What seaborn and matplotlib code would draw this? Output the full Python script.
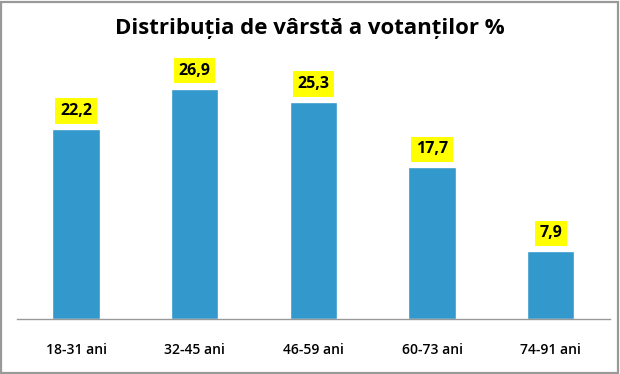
import matplotlib
matplotlib.use('Agg')
import matplotlib.pyplot as plt
import seaborn as sns
import pandas as pd
from matplotlib.patches import Rectangle

categories = ['18-31 ani', '32-45 ani', '46-59 ani', '60-73 ani', '74-91 ani']
values = [22.2, 26.9, 25.3, 17.7, 7.9]
labels = ['22,2', '26,9', '25,3', '17,7', '7,9']

df = pd.DataFrame({'grupa': categories, 'procent': values})

sns.set_theme(style='white')
plt.rcParams['font.family'] = ['Open Sans', 'DejaVu Sans']
plt.rcParams['text.color'] = 'black'
plt.rcParams['xtick.color'] = 'black'

fig = plt.figure(figsize=(6.2, 3.74), dpi=100)
ax = fig.add_axes([0.027, 0.147, 0.957, 0.687])

sns.barplot(data=df, x='grupa', y='procent', ax=ax, color='#3399CC',
            width=0.40, saturation=1)
ax.set_ylim(0, 30)
ax.set_xlim(-0.5, 4.5)
ax.set_xlabel('')
ax.set_ylabel('')
ax.set_yticks([])
for s in ['top', 'left', 'right']:
    ax.spines[s].set_visible(False)
ax.spines['bottom'].set_color('#999999')
ax.spines['bottom'].set_linewidth(1)
ax.tick_params(axis='x', length=0, pad=17, colors='black')
for t in ax.get_xticklabels():
    t.set_fontsize(10)
    t.set_fontweight('semibold')

for i, (v, lab) in enumerate(zip(values, labels)):
    ax.annotate(lab, (i, v), xytext=(0, 13), textcoords='offset points',
                ha='center', va='center', fontsize=11.5, fontweight='bold',
                color='black',
                bbox=dict(boxstyle='square,pad=0.3', fc='#FFFF00', ec='none'))

fig.text(0.5, 0.925, 'Distribuția de vârstă a votanților %', ha='center',
         va='center', fontsize=16, fontweight='bold', color='black')

fig.patches.append(Rectangle((0.002, 0.003), 0.994, 0.992, transform=fig.transFigure,
                             fill=False, ec='#999999', lw=1.6))

fig.savefig('out.png', dpi=100)
